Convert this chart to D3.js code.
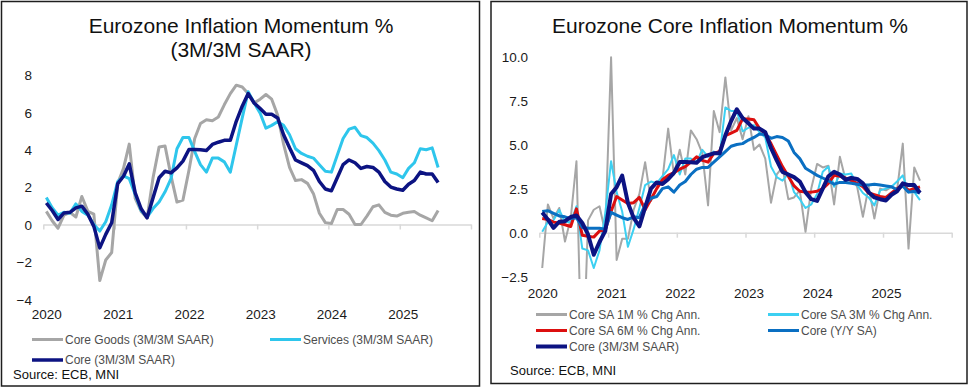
<!DOCTYPE html>
<html><head><meta charset="utf-8">
<script src="https://cdn.jsdelivr.net/npm/d3@7"></script>
<style>
html,body{margin:0;padding:0;background:#fff;}
svg{display:block;}
text{font-family:"Liberation Sans",Arial,sans-serif;}
</style></head>
<body>
<svg id="chart" width="974" height="387"></svg>
<script>
// ---------- DATA ----------
const startMonth = "2020-01";            // first observation (monthly, 67 points to 2025-07)
const yearLabels = ["2020","2021","2022","2023","2024","2025"];
const leftYTicks = [-4,-2,0,2,4,6,8];
const rightYTicks = [-2.5,0,2.5,5,7.5,10];

const coreGoods3m = [0.7,0.2,-0.2,0.5,0.65,0.4,1.5,0.7,0.55,-3.0,-1.9,-1.5,2.2,3.0,4.3,1.4,0.7,0.35,2.5,4.15,4.2,2.6,1.2,1.3,2.9,4.6,5.4,5.6,5.55,5.75,6.4,7.0,7.45,7.35,7.0,6.5,6.7,6.95,6.7,5.85,4.3,3.05,2.35,2.4,2.2,1.65,0.6,0.1,0.05,0.8,0.8,0.55,0.0,0.0,0.45,0.95,1.05,0.65,0.5,0.45,0.6,0.65,0.7,0.5,0.35,0.2,0.75];
const services3m = [1.45,0.9,0.5,0.65,0.6,1.1,0.7,0.5,0.0,-0.35,0.15,1.05,2.3,2.6,2.45,1.6,0.75,0.4,0.85,1.2,1.75,2.45,4.05,4.65,4.65,3.9,3.2,2.8,3.55,3.55,3.35,2.8,4.25,5.7,7.1,6.5,5.95,5.15,5.3,5.5,5.3,4.8,4.05,3.8,3.65,3.55,3.2,2.85,2.8,3.7,4.6,5.1,5.2,4.75,4.65,4.35,3.95,3.45,2.8,2.7,2.5,3.0,3.3,4.05,4.0,4.1,3.05];
const core3m = [1.15,0.75,0.27,0.62,0.65,0.89,0.98,0.55,-0.1,-1.25,-0.53,0.09,2.19,2.58,3.24,1.69,0.84,0.36,1.43,2.5,2.85,2.76,3.03,3.39,4.01,4.01,4.0,3.96,4.28,4.4,4.5,4.5,5.52,6.33,7.0,6.5,6.2,5.9,5.9,5.7,4.8,4.1,3.45,3.3,3.15,2.9,2.3,1.9,1.8,2.5,3.2,3.45,3.3,3.0,3.1,3.05,2.8,2.3,2.0,1.9,1.83,2.15,2.35,2.8,2.7,2.7,2.25];

const coreSA1m = [-2.0,1.6,0.8,1.4,-0.5,0.8,4.05,-9.0,0.7,1.3,1.5,0.0,9.95,-1.55,-0.35,-0.35,1.3,2.2,4.0,1.8,2.5,3.0,5.9,3.3,4.7,3.3,5.8,5.3,4.5,1.55,6.9,5.7,8.8,5.8,6.5,5.3,6.6,4.7,5.0,4.2,1.7,3.3,3.7,1.9,2.0,2.4,0.05,2.5,3.9,3.7,3.8,1.6,4.3,3.0,3.2,2.6,0.9,2.6,0.8,2.5,2.4,2.6,2.4,5.05,-0.9,3.7,2.95];
const coreSA3m = [0.05,0.6,0.7,1.3,0.6,0.6,1.5,-0.9,-1.0,-2.0,-1.0,1.1,4.05,2.3,1.2,-0.8,0.2,1.4,2.7,2.9,2.8,3.2,3.6,4.4,3.3,4.2,4.2,4.0,4.7,4.3,4.6,4.4,7.1,6.9,6.9,5.75,5.95,6.1,5.7,5.4,3.75,3.15,2.95,3.35,2.3,1.9,1.4,1.6,2.2,3.45,3.75,2.6,3.35,3.3,3.35,2.7,2.25,2.0,1.55,2.4,2.5,2.6,2.9,3.25,2.3,2.3,1.85];
const coreSA6m = [0.8,0.75,0.6,0.55,0.45,0.35,1.35,-0.15,-0.2,-0.25,0.1,0.15,1.2,2.05,1.85,1.65,1.7,2.0,1.3,1.9,2.5,3.0,3.25,3.4,3.6,3.75,4.0,4.3,4.1,4.0,4.5,4.6,5.5,5.65,5.8,6.45,6.45,6.4,5.9,5.6,5.05,4.4,3.75,3.2,2.65,2.35,2.3,2.3,2.35,2.5,2.8,3.25,3.2,3.1,2.95,2.8,2.6,2.25,2.15,2.05,2.0,2.25,2.5,2.7,2.4,2.5,2.6];
const coreYY = [1.2,1.25,1.1,0.95,0.9,0.8,0.85,0.3,0.25,0.25,0.25,0.2,1.15,1.0,0.85,0.75,0.9,0.85,1.6,1.95,2.05,2.5,2.6,2.3,2.7,2.9,3.3,3.6,3.7,3.7,4.0,4.3,4.6,4.9,5.0,5.05,5.25,5.4,5.6,5.55,5.35,5.45,5.4,5.2,4.55,4.2,3.65,3.45,3.25,3.1,2.95,2.75,2.85,2.85,2.8,2.75,2.7,2.7,2.75,2.7,2.65,2.6,2.45,2.65,2.3,2.35,2.25];

const leftSeries = [
  {name:"Core Goods (3M/3M SAAR)", values:coreGoods3m, color:"#a6a6a6", width:3},
  {name:"Services (3M/3M SAAR)", values:services3m, color:"#2ec6ec", width:3},
  {name:"Core (3M/3M SAAR)", values:core3m, color:"#0c1382", width:3.5}
];
const rightSeries = [
  {name:"Core SA 1M % Chg Ann.", values:coreSA1m, color:"#a6a6a6", width:2},
  {name:"Core SA 3M % Chg Ann.", values:coreSA3m, color:"#3cd0f2", width:2},
  {name:"Core SA 6M % Chg Ann.", values:coreSA6m, color:"#dc0f0f", width:3},
  {name:"Core (Y/Y SA)", values:coreYY, color:"#0a6fc2", width:3},
  {name:"Core (3M/3M SAAR)", values:core3m, color:"#0c1382", width:4}
];

// ---------- DRAW ----------
const svg = d3.select("#chart");
const parse = d3.utcParse("%Y-%m");
const t0 = parse(startMonth);
const dates = d3.range(coreGoods3m.length).map(i => {
  const d = d3.utcMonth.offset(t0, i);
  return new Date(d.getTime() + (d3.utcMonth.offset(d,1) - d) / 2); // mid-month
});
const yearDates = yearLabels.concat(["2026"]).map(y => d3.utcParse("%Y")(y));

function panel(cfg){
  const g = svg.append("g");
  g.append("rect").attr("x",cfg.box[0]).attr("y",cfg.box[1]).attr("width",cfg.box[2]).attr("height",cfg.box[3])
    .attr("fill","#fff").attr("stroke","#1e1e1e").attr("stroke-width",1.5);
  cfg.title.forEach((t,i)=>{
    g.append("text").attr("x",cfg.titleX).attr("y",cfg.titleY[i]).attr("text-anchor","middle")
      .attr("font-size",21).attr("fill","#111").text(t);
  });
  const x = d3.scaleUtc().domain([yearDates[0], yearDates[6]]).range([cfg.x0, cfg.x1]);
  const y = d3.scaleLinear().domain(cfg.yDomain).range([cfg.yBottom, cfg.yTop]);
  const clipId = "clip"+cfg.id;
  g.append("clipPath").attr("id",clipId).append("rect")
    .attr("x",cfg.x0-10).attr("y",cfg.clip[0]).attr("width",cfg.x1-cfg.x0+20).attr("height",cfg.clip[1]-cfg.clip[0]);

  const ya = d3.axisLeft(y).tickValues(cfg.yTicks).tickSize(0).tickPadding(0).tickFormat(cfg.yFmt);
  const yg = g.append("g").attr("transform",`translate(${cfg.yLabelX},0)`).call(ya);
  yg.select(".domain").remove();
  yg.selectAll("text").attr("font-size",13.5).attr("fill","#1a1a1a").attr("font-family","Liberation Sans, Arial, sans-serif").attr("dy","0.35em");

  const xa = d3.axisBottom(x).tickValues(yearDates).tickSize(5).tickSizeOuter(0).tickFormat("");
  const xg = g.append("g").attr("transform",`translate(0,${y(0)})`).call(xa);
  xg.select(".domain").attr("stroke","#d9d9d9").attr("stroke-width",1.5);
  xg.selectAll(".tick line").attr("stroke","#d9d9d9").attr("stroke-width",1.5);

  const xl = d3.axisBottom(x).tickValues(yearDates.slice(0,6)).tickSize(0).tickPadding(0).tickFormat(d3.utcFormat("%Y"));
  const xlg = g.append("g").attr("transform",`translate(3,${cfg.xLabelY})`).call(xl);
  xlg.select(".domain").remove();
  xlg.selectAll("text").attr("font-size",13.5).attr("fill","#1a1a1a").attr("font-family","Liberation Sans, Arial, sans-serif").attr("dy",0);

  const line = d3.line().x((d,i)=>x(dates[i])).y(d=>y(d));
  const lg = g.append("g").attr("clip-path",`url(#${clipId})`);
  cfg.series.forEach(s=>{
    lg.append("path").datum(s.values).attr("d",line).attr("fill","none")
      .attr("stroke",s.color).attr("stroke-width",s.width).attr("stroke-linejoin","round").attr("stroke-linecap","butt");
  });

  cfg.series.forEach((s,i)=>{
    const p = cfg.legendPos[i];
    g.append("line").attr("x1",p[0]).attr("x2",p[0]+31).attr("y1",p[1]).attr("y2",p[1])
      .attr("stroke",s.color).attr("stroke-width",Math.max(3,s.width));
    g.append("text").attr("x",p[0]+33).attr("y",p[1]).attr("dy","0.35em").attr("font-size",12)
      .attr("fill","#4d4d4d").text(s.name);
  });
  g.append("text").attr("x",cfg.source[0]).attr("y",cfg.source[1]).attr("font-size",13).attr("fill","#111").text("Source: ECB, MNI");
}

panel({
  id:"L", box:[1.5,1.5,478,384.5],
  title:["Eurozone Inflation Momentum %","(3M/3M SAAR)"], titleX:241, titleY:[33,57],
  x0:43.3, x1:471, yDomain:[-4,8], yBottom:299.3, yTop:74.9, yTicks:leftYTicks, yFmt:d3.format("d"),
  yLabelX:32, xLabelY:319, clip:[60,305],
  series:leftSeries,
  legendPos:[[32,339.5],[270,339.5],[32,360]],
  source:[13,379]
});
panel({
  id:"R", box:[491,1.5,476,382],
  title:["Eurozone Core Inflation Momentum %"], titleX:730, titleY:[33],
  x0:539.3, x1:951.7, yDomain:[-2.5,10], yBottom:276.8, yTop:56.3, yTicks:rightYTicks, yFmt:d3.format(".1f"),
  yLabelX:528, xLabelY:298, clip:[50,279],
  series:rightSeries,
  legendPos:[[536,314.5],[768,314.5],[536,330.5],[768,330.5],[536,346.5]],
  source:[510,375]
});
</script>
</body></html>
